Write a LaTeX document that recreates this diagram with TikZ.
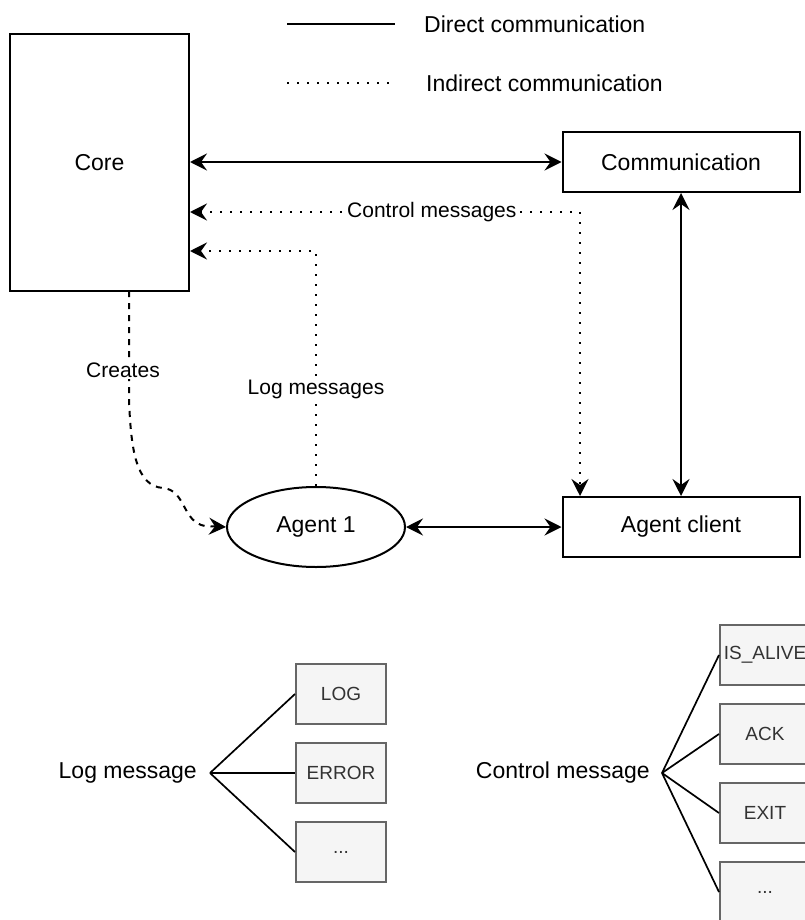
\documentclass[tikz,border=0pt]{standalone}
\usepackage{fontspec}
\setmainfont{Liberation Sans}
\usetikzlibrary{arrows.meta,shapes.geometric}
\definecolor{boxfill}{HTML}{F5F5F5}
\definecolor{boxline}{HTML}{666666}
\definecolor{boxtext}{HTML}{333333}
\begin{document}
\begin{tikzpicture}[x=1pt,y=-1pt,
  lw/.style={line width=2pt},
  tip/.tip={Stealth[length=17pt,width=17pt,inset=6pt]},
  arr/.style={lw,{tip}-{tip}},
  dotline/.style={lw,dash pattern=on 2pt off 8pt},
  dashline/.style={lw,dash pattern=on 6pt off 6pt},
  bigtxt/.style={font=\fontsize{23}{27}\selectfont},
  lbl/.style={font=\fontsize{21}{25}\selectfont,fill=white,inner sep=2pt},
  mainbox/.style={draw,lw,bigtxt,inner sep=0pt},
  smallbox/.style={draw=boxline,fill=boxfill,lw,text=boxtext,minimum width=90pt,minimum height=60pt,inner sep=0pt,font=\fontsize{19}{23}\selectfont},
  fan/.style={line width=1.7pt}
]
\useasboundingbox (0,0) rectangle (804,920);

% legend
\coordinate (l1a) at (287,24);
\coordinate (l1b) at (395,24);
\coordinate (l2a) at (287,83);
\coordinate (l2b) at (395,83);
\draw[lw] (l1a) -- (l1b);
\draw[dotline] (l2a) -- (l2b);
\node[bigtxt,anchor=west,inner sep=0pt] (leg1) at (424,24) {Direct communication};
\node[bigtxt,anchor=west,inner sep=0pt] (leg2) at (426,83) {Indirect communication};

% main nodes
\node[mainbox,minimum width=179pt,minimum height=257pt] (Core) at (99.5,162.5) {Core};
\node[mainbox,minimum width=237pt,minimum height=60pt] (Comm) at (681,162) {Communication};
\node[mainbox,minimum width=237pt,minimum height=60pt] (AC) at (681,527) {Agent client};
\node[mainbox,ellipse,minimum width=178pt,minimum height=80pt] (A1) at (316,527) {Agent 1};

% direct connections
\draw[arr] (Core.east |- Comm.west) -- (Comm.west);
\draw[arr] (Comm.south) -- (AC.north);
\draw[arr] (A1.east) -- (AC.west);

% indirect connections
\coordinate (ctrlc) at (580,212);
\draw[dotline,{tip}-{tip}] (Core.east |- ctrlc) -- node[lbl,pos=0.62] {Control messages} (ctrlc) -- (ctrlc |- AC.north);
\coordinate (logc) at (316,251);
\draw[dotline,-{tip}] (A1.north) -- node[lbl,pos=0.41] {Log messages} (logc) -- (Core.east |- logc);

% creates
\coordinate (cs) at (129,291);
\draw[dashline,-{tip}] (cs) -- (129,400) .. controls (131,450) and (136,486) .. (163,488)
   .. controls (186,490) and (182,522) .. (205,526) -- (A1.west);
\node[lbl] (cr) at (123,370) {Creates};

% log message tree
\node[bigtxt,anchor=east,inner ysep=0pt,inner xsep=13pt] (lm) at (210,773) {Log message};
\node[smallbox] (LOG) at (341,694) {LOG};
\node[smallbox] (ERR) at (341,773) {ERROR};
\node[smallbox] (LD) at (341,852) {...};
\draw[fan] (lm.east) -- (LOG.west);
\draw[fan] (lm.east) -- (ERR.west);
\draw[fan] (lm.east) -- (LD.west);

% control message tree
\node[bigtxt,anchor=east,inner ysep=0pt,inner xsep=12pt] (cm) at (662,773) {Control message};
\node[smallbox] (ISA) at (765,655) {IS\_ALIVE};
\node[smallbox] (ACK) at (765,734) {ACK};
\node[smallbox] (EXT) at (765,813) {EXIT};
\node[smallbox] (CD) at (765,892) {...};
\draw[fan] (cm.east) -- (ISA.west);
\draw[fan] (cm.east) -- (ACK.west);
\draw[fan] (cm.east) -- (EXT.west);
\draw[fan] (cm.east) -- (CD.west);
\end{tikzpicture}
\end{document}
